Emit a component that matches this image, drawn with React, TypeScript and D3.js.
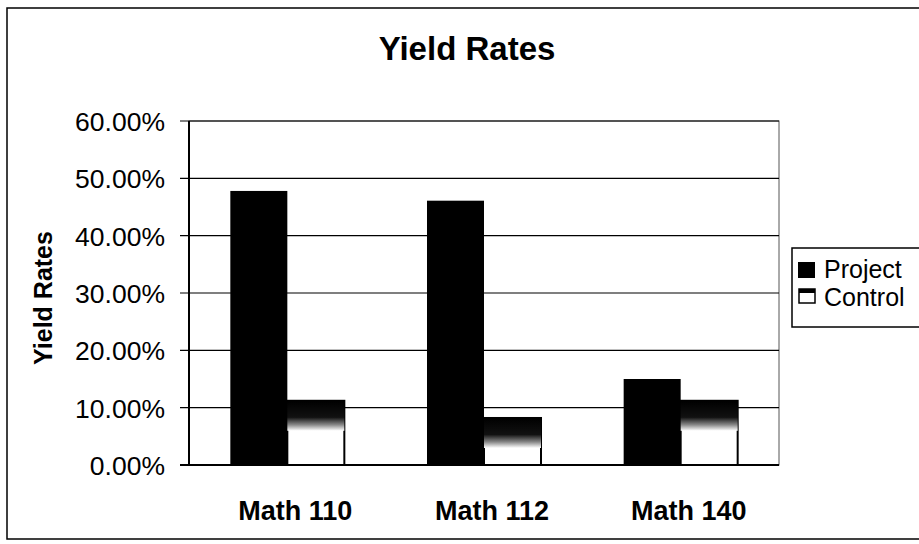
import React from 'react'
import * as d3 from 'd3'

const categories = ['Math 110', 'Math 112', 'Math 140']
const seriesNames = ['Project', 'Control']
const projectValues = [0.478, 0.461, 0.15]
const controlValues = [0.112, 0.082, 0.112]
const yTicks = [0, 0.1, 0.2, 0.3, 0.4, 0.5, 0.6]

const W = 919
const H = 544
const plot = { left: 189, right: 779, top: 121, bottom: 465 }
const font = '"Liberation Sans", Arial, sans-serif'

export default function App() {
  const x0 = d3.scaleBand<string>().domain(categories).range([plot.left, plot.right]).padding(0)
  const x1 = d3.scaleBand<string>().domain(seriesNames).range([0, x0.bandwidth()]).paddingInner(0).paddingOuter(0.725)
  const y = d3.scaleLinear().domain([0, 0.6]).range([plot.bottom, plot.top])
  const fmt = d3.format('.2%')
  const values = [projectValues, controlValues]

  return (
    <svg width={W} height={H} style={{ position: 'absolute', left: 0, top: 0, background: '#fff' }}>
      <defs>
        <linearGradient id="ctrlFade" x1="0" y1="0" x2="0" y2="1">
          <stop offset="0" stopColor="#000" />
          <stop offset="0.55" stopColor="#111" />
          <stop offset="0.8" stopColor="#888" />
          <stop offset="1" stopColor="#fff" />
        </linearGradient>
      </defs>
      {/* outer chart border */}
      <rect x={7} y={8} width={940} height={531} fill="#fff" stroke="#000" strokeWidth={1.5} />

      <text x={467} y={60} textAnchor="middle" fontFamily={font} fontWeight="bold" fontSize={33}>Yield Rates</text>

      {/* plot area + gridlines */}
      <rect x={plot.left} y={plot.top} width={plot.right - plot.left} height={plot.bottom - plot.top} fill="#fff" stroke="#555" strokeWidth={1} />
      {yTicks.map(t => (
        <g key={t}>
          <line x1={plot.left - 9} x2={plot.right} y1={y(t)} y2={y(t)} stroke="#000" strokeWidth={1.2} />
          <text x={165} y={y(t) + 10} textAnchor="end" fontFamily={font} fontSize={26.5}>{fmt(t)}</text>
        </g>
      ))}

      {/* bars */}
      {categories.map((c, i) => (
        <g key={c}>
          {seriesNames.map((s, j) => {
            const bx = (x0(c) || 0) + (x1(s) || 0)
            const by = y(values[j][i])
            const bh = plot.bottom - by
            if (j === 0) {
              return <rect key={s} x={bx} y={by} width={x1.bandwidth()} height={bh} fill="#000" />
            }
            return (
              <g key={s}>
                <rect x={bx} y={by} width={x1.bandwidth()} height={bh} fill="#fff" stroke="#000" strokeWidth={2} />
                <rect x={bx} y={by} width={x1.bandwidth()} height={Math.min(30, bh)} fill="url(#ctrlFade)" />
              </g>
            )
          })}
          <text x={(x0(c) || 0) + x0.bandwidth() / 2 + 8} y={520} textAnchor="middle" fontFamily={font} fontWeight="bold" fontSize={27}>{c}</text>
        </g>
      ))}

      {/* axes */}
      <line x1={plot.left} x2={plot.left} y1={plot.top} y2={plot.bottom} stroke="#000" strokeWidth={2} />
      <line x1={plot.left - 9} x2={plot.right} y1={plot.bottom} y2={plot.bottom} stroke="#000" strokeWidth={2} />

      <text transform={`translate(52,298) rotate(-90)`} textAnchor="middle" fontFamily={font} fontWeight="bold" fontSize={25}>Yield Rates</text>

      {/* legend */}
      <rect x={792} y={248} width={140} height={79} fill="#fff" stroke="#000" strokeWidth={1.5} />
      <rect x={798} y={262} width={17} height={16} fill="#000" />
      <text x={824} y={278} fontFamily={font} fontSize={25}>{seriesNames[0]}</text>
      <rect x={799} y={289} width={16} height={14} fill="#fff" stroke="#000" strokeWidth={1.5} />
      <rect x={799} y={289} width={16} height={4} fill="#000" />
      <text x={824} y={306} fontFamily={font} fontSize={25}>{seriesNames[1]}</text>
    </svg>
  )
}
